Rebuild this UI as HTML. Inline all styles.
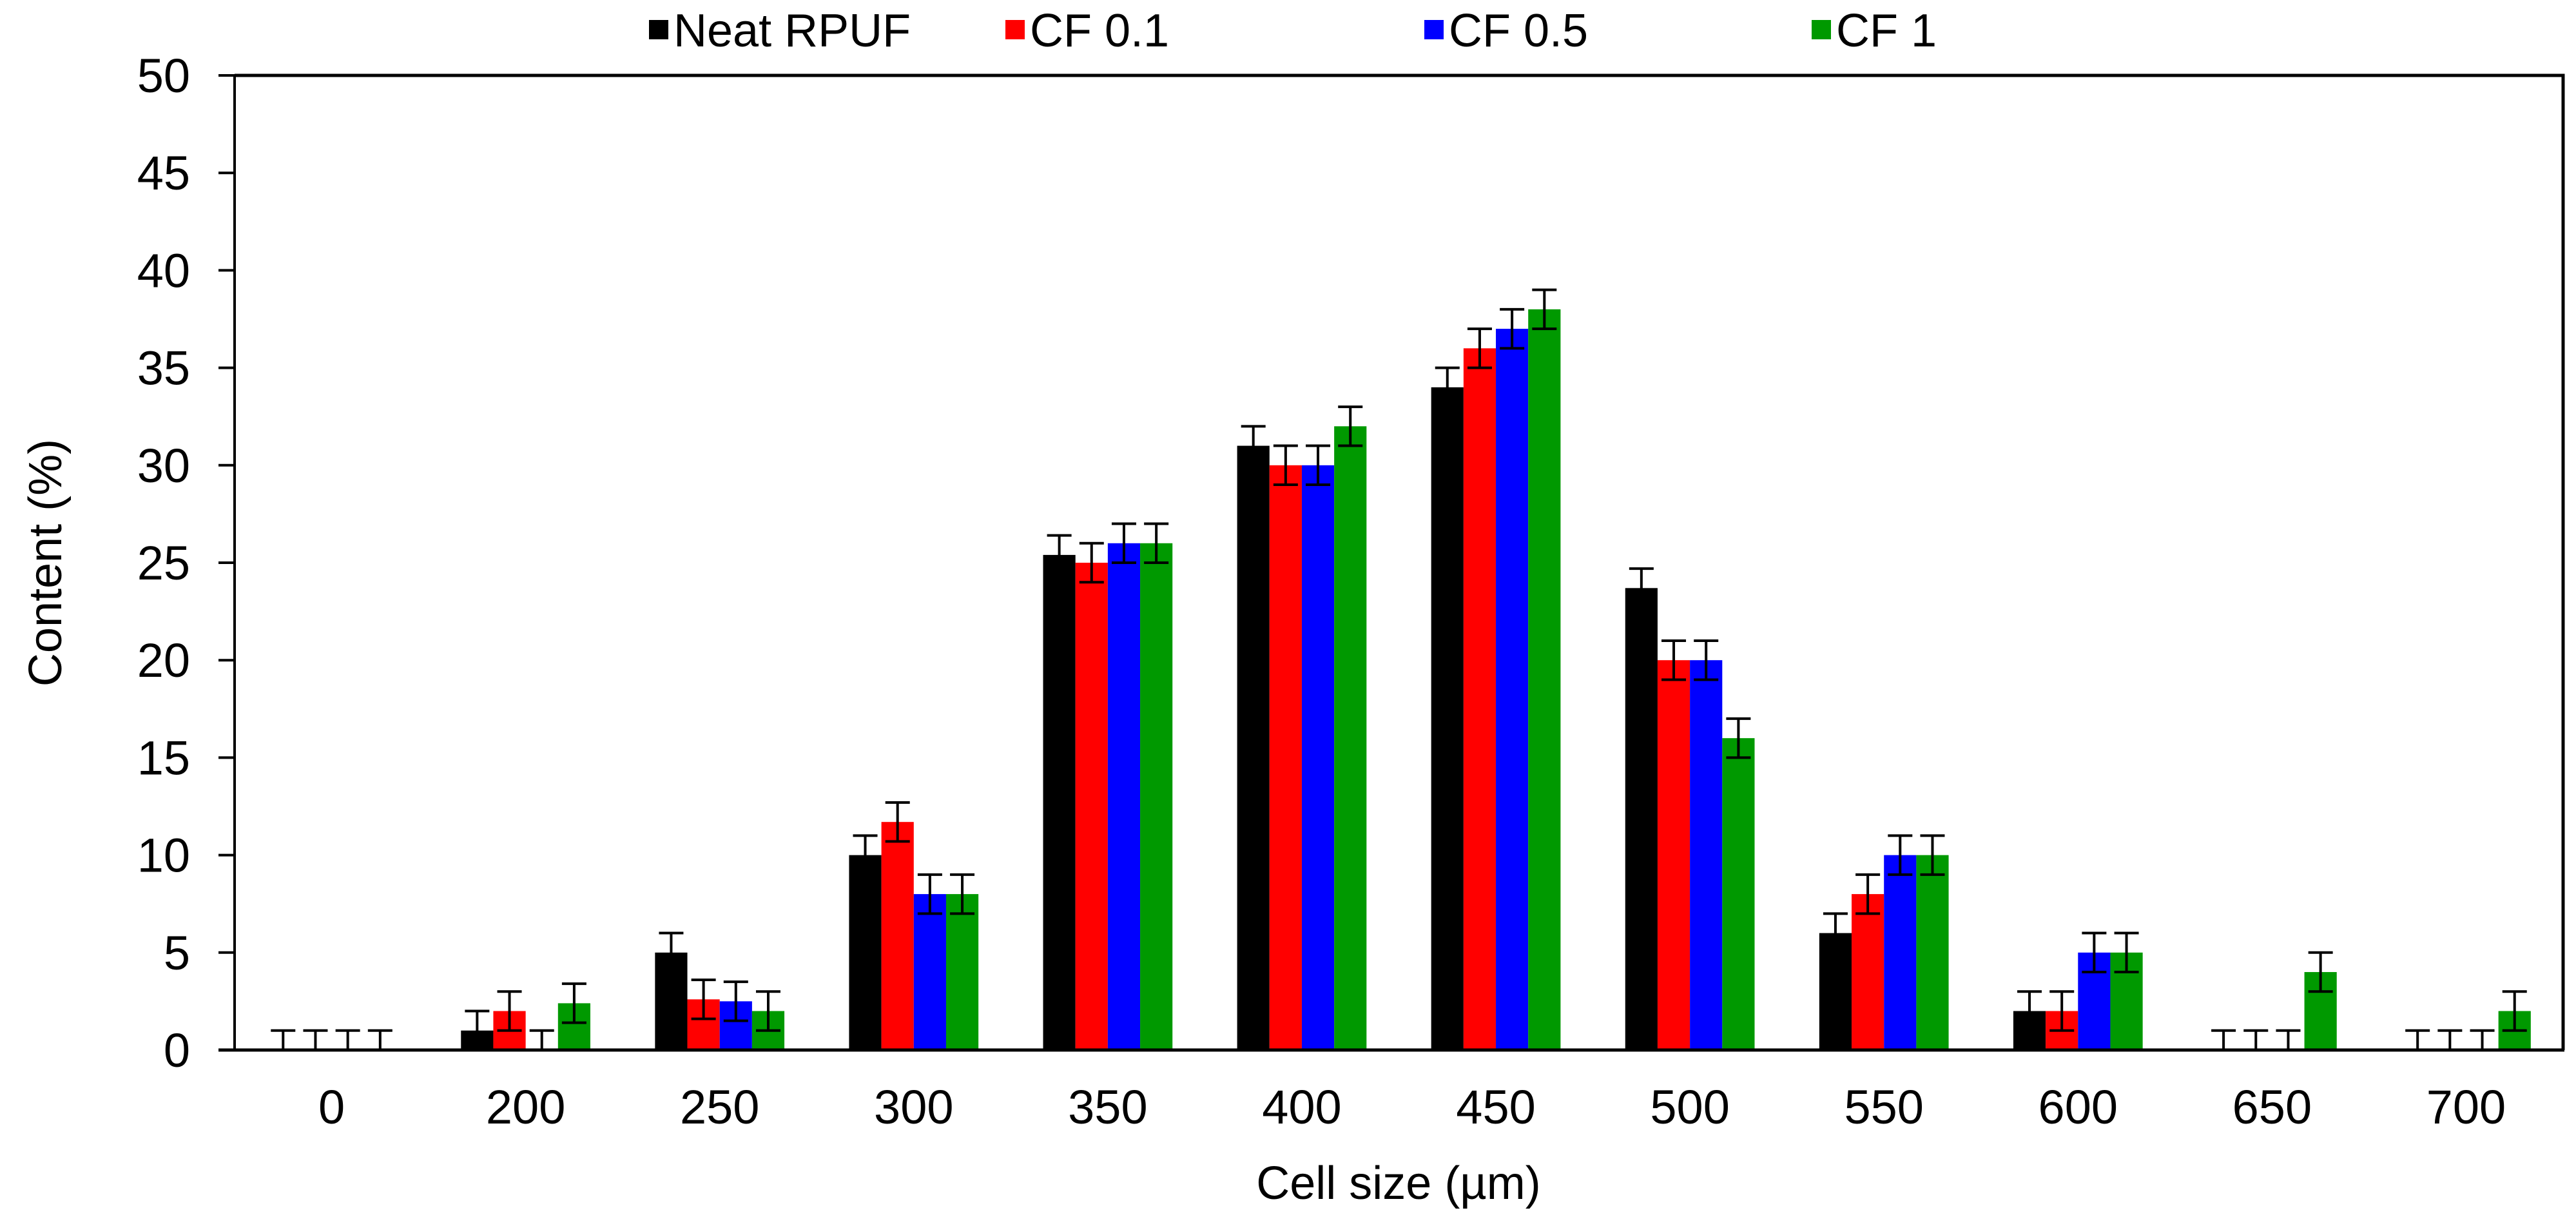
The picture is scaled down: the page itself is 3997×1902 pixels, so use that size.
<!DOCTYPE html>
<html><head><meta charset="utf-8"><style>
html,body{margin:0;padding:0;background:#fff}
svg{display:block}
text{font-family:"Liberation Sans",Arial,sans-serif;fill:#000}
</style></head><body>
<svg id="chart" width="3997" height="1902" xmlns="http://www.w3.org/2000/svg">
<g id="legend"></g>
<g id="bars"></g>
<g id="axes"></g>
<text transform="translate(95,873) rotate(-90)" text-anchor="middle" font-size="72">Content (%)</text>
<text x="2170" y="1860" text-anchor="middle" font-size="72">Cell size (µm)</text>
</svg>
<script>
const categories = ["0","200","250","300","350","400","450","500","550","600","650","700"];
const seriesNames = ["Neat RPUF","CF 0.1","CF 0.5","CF 1"];
const seriesColors = ["#000000","#ff0000","#0000ff","#009900"];
const neatRPUF = [0,1,5,10,25.4,31,34,23.7,6,2,0,0];
const cf01 = [0,2,2.6,11.7,25,30,36,20,8,2,0,0];
const cf05 = [0,0,2.5,8,26,30,37,20,10,5,0,0];
const cf1 = [0,2.4,2,8,26,32,38,16,10,5,4,2];
const errNeat = [1,1,1,1,1,1,1,1,1,1,1,1];
const errCf01 = [1,1,1,1,1,1,1,1,1,1,1,1];
const errCf05 = [1,1,1,1,1,1,1,1,1,1,1,1];
const errCf1 = [1,1,1,1,1,1,1,1,1,1,1,1];
const yTicks = [0,5,10,15,20,25,30,35,40,45,50];

const series = [neatRPUF, cf01, cf05, cf1];
const errs = [errNeat, errCf01, errCf05, errCf1];
const NS = "http://www.w3.org/2000/svg";
const X0 = 364, X1 = 3977, Y0 = 1629, Y1 = 117, YMAX = 50;
const catW = (X1 - X0) / categories.length;
const barW = catW / 6;
function yS(v){ return Y0 - (v / YMAX) * (Y0 - Y1); }
function catX(i){ return X0 + catW * (i + 0.5); }
function barX(i, s){ return catX(i) - 2 * barW + s * barW; }
function mk(tag, attrs, parent){
  const e = document.createElementNS(NS, tag);
  for (const k in attrs) e.setAttribute(k, attrs[k]);
  parent.appendChild(e);
  return e;
}
const bars = document.getElementById('bars');
const axes = document.getElementById('axes');
const legend = document.getElementById('legend');

series.forEach((vals, s) => {
  vals.forEach((v, i) => {
    const x = barX(i, s);
    if (v > 0) {
      const r = mk('rect', {x: x, y: yS(v), width: barW, height: Y0 - yS(v), fill: seriesColors[s]}, bars);
      
      
    }
    const e = errs[s][i];
    const cx = x + barW / 2;
    const top = yS(v + e);
    const bot = yS(Math.max(0, v - e));
    const g = mk('g', {stroke: '#000', 'stroke-width': 4}, bars);
    
    
    mk('line', {x1: cx, y1: top, x2: cx, y2: bot}, g);
    mk('line', {x1: cx - 19, y1: top, x2: cx + 19, y2: top}, g);
    if (v - e >= 0) mk('line', {x1: cx - 19, y1: bot, x2: cx + 19, y2: bot}, g);
  });
});

const frame = mk('path', {d: `M${X0},${Y1} H${X1} V${Y0}`, fill: 'none', stroke: '#000', 'stroke-width': 5}, axes);


const yAxis = mk('line', {x1: X0, y1: Y1 - 2, x2: X0, y2: Y0, stroke: '#000', 'stroke-width': 4}, axes);


const xAxis = mk('line', {x1: X0 - 25, y1: Y0, x2: X1 + 2, y2: Y0, stroke: '#000', 'stroke-width': 5}, axes);



yTicks.forEach(t => {
  const y = yS(t);
  const tk = mk('line', {x1: X0 - 25, y1: y, x2: X0, y2: y, stroke: '#000', 'stroke-width': 4}, axes);
  
  
  const lb = mk('text', {x: 295, y: y + 26, 'text-anchor': 'end', 'font-size': 74}, axes);
  lb.textContent = t;
  
  
});
categories.forEach((c, i) => {
  const lb = mk('text', {x: catX(i), y: 1743, 'text-anchor': 'middle', 'font-size': 74}, axes);
  lb.textContent = c;
  
  
});

const legX = [1007, 1560, 2210, 2811];
seriesNames.forEach((n, s) => {
  const g = mk('g', {}, legend);
  
  
  mk('rect', {x: legX[s], y: 31, width: 30, height: 30, fill: seriesColors[s]}, g);
  const t = mk('text', {x: legX[s] + 38, y: 72, 'font-size': 72}, g);
  t.textContent = n;
});
</script>
</body></html>
